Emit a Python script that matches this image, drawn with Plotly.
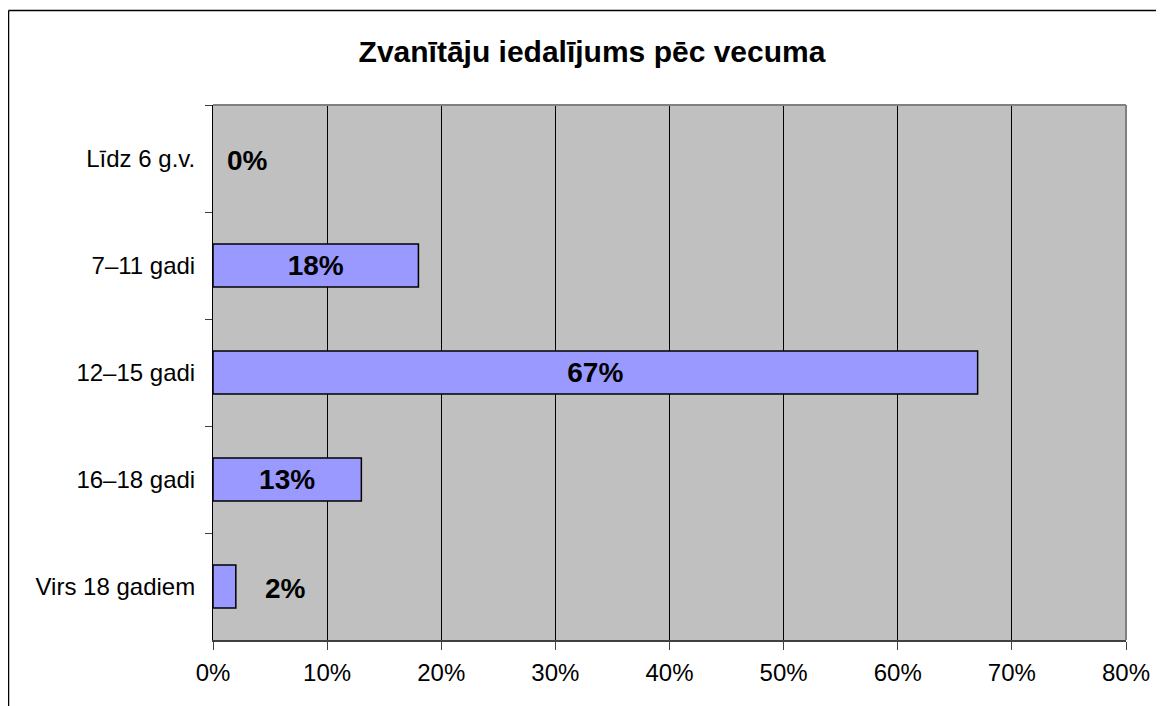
import plotly.graph_objects as go

categories = ["Līdz 6 g.v.", "7–11 gadi", "12–15 gadi", "16–18 gadi", "Virs 18 gadiem"]
values = [0, 18, 67, 13, 2]
x_ticks = [0, 10, 20, 30, 40, 50, 60, 70, 80]
x_tick_labels = [f"{v}%" for v in x_ticks]
title_text = "Zvanītāju iedalījums pēc vecuma"

# style: which labels sit beside the bar instead of inside (pixel shift from bar end)
outside_shift = {0: 12, 4: 27}

# page has an 8px body margin, so the figure is drawn offset by 8px
W, H = 1156, 698
L, R, T, B = 205, 38, 97, 66
pw, ph = W - L - R, H - T - B

FONT = "Liberation Sans, Arial, Helvetica, sans-serif"

inside_text = [("" if i in outside_shift else f"{v}%") for i, v in enumerate(values)]
outline_widths = [(0 if v == 0 else 1.5) for v in values]

fig = go.Figure()
fig.add_trace(go.Bar(
    x=values, y=categories, orientation="h",
    marker=dict(color="#9999FF", line=dict(color="#000000", width=outline_widths)),
    width=0.4,
    text=inside_text, textposition="inside", insidetextanchor="middle",
    textfont=dict(family=FONT, size=28, color="#000000", weight="bold"),
    textangle=0,
    hoverinfo="skip",
))

annotations = []
for i, shift in outside_shift.items():
    annotations.append(dict(
        x=values[i], y=categories[i], xref="x", yref="y",
        text=f"<b>{values[i]}%</b>", showarrow=False,
        xanchor="left", yanchor="middle", xshift=shift, yshift=-2,
        font=dict(family=FONT, size=28, color="#000000"),
    ))

fx = (0.5 - L) / pw
fy = (H - B - 2.5) / ph
shapes = [
    # plot-area top and right border (gray)
    dict(type="line", xref="paper", yref="paper", x0=0, x1=1, y0=1, y1=1,
         line=dict(color="#808080", width=2), layer="above"),
    dict(type="line", xref="paper", yref="paper", x0=1, x1=1, y0=0, y1=1,
         line=dict(color="#808080", width=2), layer="above"),
    # outer chart frame (left and top edges visible)
    dict(type="line", xref="paper", yref="paper", x0=fx, x1=fx, y0=-0.3, y1=fy,
         line=dict(color="#000000", width=1.5)),
    dict(type="line", xref="paper", yref="paper", x0=fx, x1=1.2, y0=fy, y1=fy,
         line=dict(color="#000000", width=1.5)),
]

fig.update_layout(
    width=W, height=H,
    margin=dict(l=L, r=R, t=T, b=B, pad=0),
    paper_bgcolor="#FFFFFF", plot_bgcolor="#C0C0C0",
    showlegend=False,
    font=dict(family=FONT, size=24, color="#000000"),
    title=dict(text=f"<b>{title_text}</b>", xref="container", yref="container",
               x=584 / W, y=1 - 43 / H, xanchor="center", yanchor="middle",
               font=dict(family=FONT, size=30, color="#000000")),
    bargap=0.6,
    annotations=annotations,
    shapes=shapes,
)

fig.update_xaxes(
    range=[0, 80], tickvals=x_ticks, ticktext=x_tick_labels,
    showgrid=True, gridcolor="#000000", gridwidth=1,
    zeroline=False,
    showline=True, linecolor="#404040", linewidth=2,
    ticks="outside", ticklen=8, tickcolor="#404040", tickwidth=1,
    ticklabelstandoff=2,
    tickfont=dict(family=FONT, size=24, color="#000000"),
    fixedrange=True,
)
fig.update_yaxes(
    categoryorder="array", categoryarray=categories,
    autorange="reversed",
    showgrid=False, zeroline=False,
    showline=True, linecolor="#000000", linewidth=1,
    ticks="outside", tickson="boundaries", ticklen=7, tickcolor="#404040", tickwidth=1,
    ticklabelstandoff=12,
    tickfont=dict(family=FONT, size=24, color="#000000"),
    fixedrange=True,
)

fig.write_html("out.html")
